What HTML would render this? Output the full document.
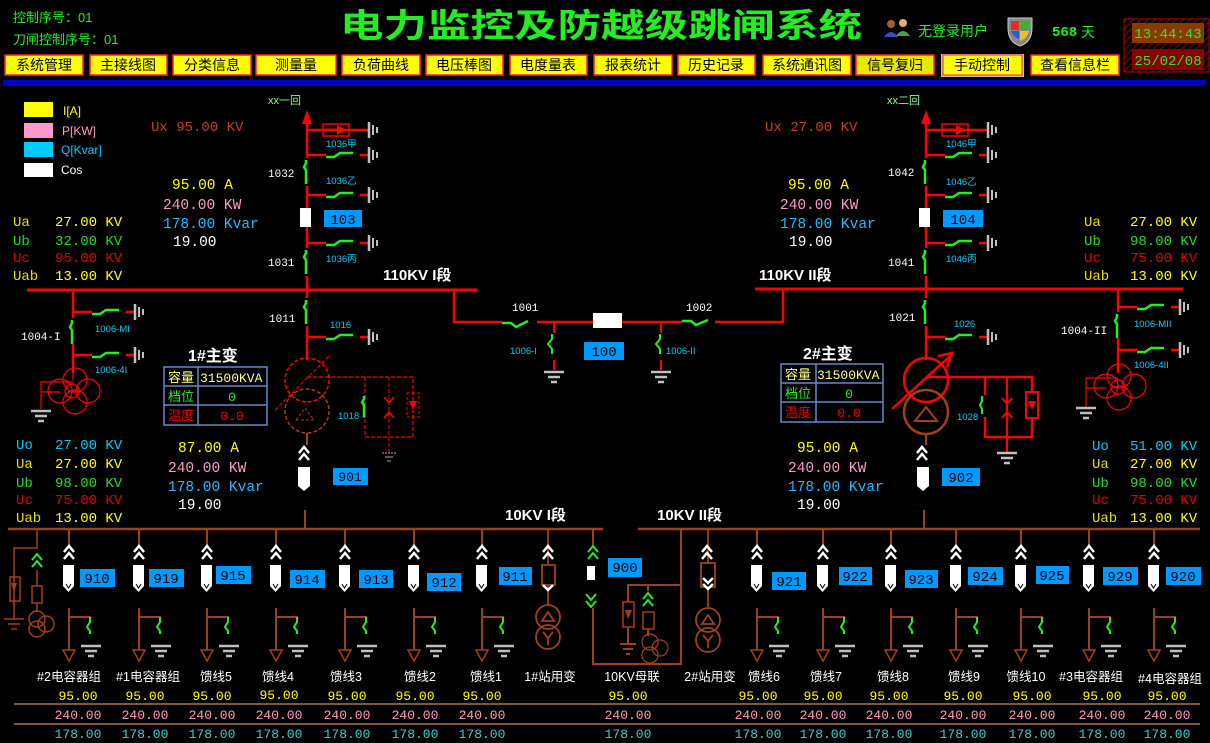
<!DOCTYPE html>
<html><head><meta charset="utf-8">
<style>
html,body{margin:0;padding:0;background:#000;}
svg{display:block;}
text{font-family:"Liberation Sans","Noto Sans CJK SC",sans-serif;}
.m, .m text{font-family:"Liberation Mono","Noto Sans CJK SC",monospace;}
.c, .c text{font-family:"Liberation Sans","Noto Sans CJK SC",sans-serif;}
</style></head>
<body>
<svg width="1210" height="743" viewBox="0 0 1210 743" xmlns="http://www.w3.org/2000/svg">
<defs>
 <pattern id="hatch" width="5" height="5" patternUnits="userSpaceOnUse" patternTransform="rotate(45)">
  <rect width="5" height="5" fill="#000"/><line x1="0" y1="0" x2="0" y2="5" stroke="#b00000" stroke-width="1.5"/>
 </pattern>
 <g id="br">
  <line x1="0" y1="0" x2="19" y2="0" stroke="#f00" stroke-width="2.5"/>
  <polyline points="19,2 27,2 33,-2 46,-2" fill="none" stroke="#22ee22" stroke-width="2.5"/>
  <line x1="53" y1="0" x2="61" y2="0" stroke="#f00" stroke-width="2.5"/>
  <line x1="62" y1="-8" x2="62" y2="8" stroke="#c0c0c0" stroke-width="2.5"/>
  <line x1="66" y1="-5" x2="66" y2="5" stroke="#c0c0c0" stroke-width="2"/>
  <line x1="70" y1="-3" x2="70" y2="3" stroke="#c0c0c0" stroke-width="2"/>
 </g>
 <g id="brA">
  <line x1="0" y1="0" x2="61" y2="0" stroke="#f00" stroke-width="2.5"/>
  <rect x="16" y="-6" width="26" height="12" fill="none" stroke="#f00" stroke-width="1.5"/>
  <line x1="18" y1="0" x2="32" y2="0" stroke="#f00" stroke-width="3"/>
  <polygon points="30,-5 40,0 30,5" fill="#f00"/>
  <line x1="62" y1="-8" x2="62" y2="8" stroke="#c0c0c0" stroke-width="2.5"/>
  <line x1="66" y1="-5" x2="66" y2="5" stroke="#c0c0c0" stroke-width="2"/>
  <line x1="70" y1="-3" x2="70" y2="3" stroke="#c0c0c0" stroke-width="2"/>
 </g>
 <g id="vs">
  <polyline points="0,0 0,3 -2,7 0,10 0,24" fill="none" stroke="#22ee22" stroke-width="2.5"/>
 </g>
 <g id="gd">
  <line x1="-10" y1="0" x2="10" y2="0" stroke="#c0c0c0" stroke-width="2.5"/>
  <line x1="-6" y1="5" x2="6" y2="5" stroke="#c0c0c0" stroke-width="2.5"/>
  <line x1="-3" y1="10" x2="3" y2="10" stroke="#c0c0c0" stroke-width="2.5"/>
 </g>
 <g id="chw">
  <polyline points="-5,7 0,1 5,7" fill="none" stroke="#fff" stroke-width="2.5"/>
  <polyline points="-5,14 0,8 5,14" fill="none" stroke="#fff" stroke-width="2.5"/>
 </g>
 <g id="chg">
  <polyline points="-5,7 0,1 5,7" fill="none" stroke="#22ee22" stroke-width="2"/>
  <polyline points="-5,14 0,8 5,14" fill="none" stroke="#22ee22" stroke-width="2"/>
 </g>
 <g id="chgd">
  <polyline points="-5,1 0,7 5,1" fill="none" stroke="#22ee22" stroke-width="2"/>
  <polyline points="-5,8 0,14 5,8" fill="none" stroke="#22ee22" stroke-width="2"/>
 </g>
 <g id="fd">
  <line x1="0" y1="529" x2="0" y2="545" stroke="#a0401a" stroke-width="2"/>
  <use href="#chw" y="545"/>
  <path d="M-6,565 h11 v21 l-5.5,6 l-5.5,-6 z" fill="#fff"/>
  <polyline points="-3,584 -0.5,588 2,584" fill="none" stroke="#000" stroke-width="1"/>
  <line x1="0" y1="608" x2="0" y2="650" stroke="#a0401a" stroke-width="2"/>
  <polygon points="-6,650 6,650 0,661" fill="none" stroke="#a0401a" stroke-width="1.5"/>
  <line x1="0" y1="617" x2="22" y2="617" stroke="#a0401a" stroke-width="2"/>
  <polyline points="21,617 21,622 18,627 21,631 21,634" fill="none" stroke="#22ee22" stroke-width="2"/>
  <use href="#gd" x="22" y="646"/>
 </g>
</defs>

<rect width="1210" height="743" fill="#000"/>

<text x="13" y="22" font-size="13" fill="#22ee22">控制序号：01</text>
<text x="13" y="44" font-size="13" fill="#22ee22">刀闸控制序号：01</text>
<text x="340" y="37" font-size="33" font-weight="bold" fill="#22ee22" textLength="522" lengthAdjust="spacingAndGlyphs">电力监控及防越级跳闸系统</text>
<circle cx="891" cy="24" r="4" fill="#a06030"/><path d="M884,37 q7,-10 14,0 z" fill="#3050c0"/>
<circle cx="903" cy="23" r="4" fill="#e0b070"/><path d="M896,36 q7,-10 14,0 z" fill="#50a040"/>
<text x="918" y="36" font-size="14" fill="#22ee22">无登录用户</text>
<path d="M1008,18 h24 v10 q0,14 -12,18 q-12,-4 -12,-18 z" fill="#888" stroke="#ccc"/>
<path d="M1011,21 h8 v9 h-8 z" fill="#e03020"/><path d="M1020,21 h9 v9 h-9 z" fill="#40b030"/>
<path d="M1011,31 h8 v8 q-6,-2 -8,-8 z" fill="#2060e0"/><path d="M1020,31 h9 q-2,8 -9,10 z" fill="#f0c020"/>
<text x="1052" y="36" font-size="14" font-weight="bold" fill="#22ee22" class="m">568</text>
<text x="1081" y="37" font-size="14" fill="#22ee22">天</text>
<rect x="1124" y="19" width="85" height="53" fill="url(#hatch)" stroke="#c00000" stroke-width="1"/>
<rect x="1132" y="23" width="72" height="20" fill="#8a3a00"/>
<text x="1168" y="38" font-size="14" fill="#22ee22" text-anchor="middle" class="m">13:44:43</text>
<rect x="1132" y="49" width="72" height="21" fill="#8a0000"/>
<text x="1168" y="65" font-size="14" fill="#22ee22" text-anchor="middle" class="m">25/02/08</text>

<g font-size="14" fill="#000" text-anchor="middle">
 <rect x="5" y="55" width="78" height="20" fill="#ffff00" stroke="#ff2020" stroke-width="1.5"/><text x="44" y="70">系统管理</text>
 <rect x="90" y="55" width="77" height="20" fill="#ffff00" stroke="#ff2020" stroke-width="1.5"/><text x="128" y="70">主接线图</text>
 <rect x="173" y="55" width="78" height="20" fill="#ffff00" stroke="#ff2020" stroke-width="1.5"/><text x="212" y="70">分类信息</text>
 <rect x="256" y="55" width="80" height="20" fill="#ffff00" stroke="#ff2020" stroke-width="1.5"/><text x="296" y="70">测量量</text>
 <rect x="342" y="55" width="78" height="20" fill="#ffff00" stroke="#ff2020" stroke-width="1.5"/><text x="381" y="70">负荷曲线</text>
 <rect x="426" y="55" width="77" height="20" fill="#ffff00" stroke="#ff2020" stroke-width="1.5"/><text x="464" y="70">电压棒图</text>
 <rect x="510" y="55" width="77" height="20" fill="#ffff00" stroke="#ff2020" stroke-width="1.5"/><text x="548" y="70">电度量表</text>
 <rect x="594" y="55" width="78" height="20" fill="#ffff00" stroke="#ff2020" stroke-width="1.5"/><text x="633" y="70">报表统计</text>
 <rect x="678" y="55" width="77" height="20" fill="#ffff00" stroke="#ff2020" stroke-width="1.5"/><text x="716" y="70">历史记录</text>
 <rect x="763" y="55" width="88" height="20" fill="#ffff00" stroke="#ff2020" stroke-width="1.5"/><text x="807" y="70">系统通讯图</text>
 <rect x="856" y="55" width="78" height="20" fill="#e8e800" stroke="#ff2020" stroke-width="1.5"/><text x="895" y="70">信号复归</text>
 <rect x="941" y="54" width="83" height="23" fill="#c0c0c0"/><rect x="943" y="55" width="79" height="20" fill="#ffff00" stroke="#ff2020" stroke-width="1"/><text x="982" y="70">手动控制</text>
 <rect x="1031" y="55" width="88" height="20" fill="#ffff00" stroke="#ff2020" stroke-width="1.5"/><text x="1075" y="70">查看信息栏</text>
</g>
<rect x="3" y="80" width="1202" height="6" fill="#0000cc"/>

<rect x="24" y="102" width="29" height="15" fill="#ffff00"/><text x="63" y="115" font-size="12" fill="#ffff00">I[A]</text>
<rect x="24" y="123" width="29" height="15" fill="#ff99cc"/><text x="62" y="135" font-size="12" fill="#ff99cc">P[KW]</text>
<rect x="24" y="142" width="29" height="15" fill="#00ccff"/><text x="61" y="154" font-size="12" fill="#00ccff">Q[Kvar]</text>
<rect x="24" y="163" width="29" height="14" fill="#fff"/><text x="61" y="174" font-size="12" fill="#fff">Cos</text>

<text x="151" y="131" font-size="14" fill="#c04020" class="m">Ux 95.00 KV</text>
<text x="268" y="104" font-size="11" fill="#88ff88">xx一回</text>
<line x1="307" y1="120" x2="307" y2="290" stroke="#f00" stroke-width="2.5"/>
<polygon points="302,124 307,110 312,124" fill="#f00"/>
<use href="#brA" x="307" y="130"/>
<use href="#br" x="307" y="155"/>
<use href="#br" x="307" y="195"/>
<use href="#br" x="307" y="243"/>
<rect x="303" y="158" width="8" height="28" fill="#000"/><use href="#vs" x="306" y="160"/>
<rect x="303" y="248" width="8" height="28" fill="#000"/><use href="#vs" x="306" y="250"/>
<rect x="300" y="208" width="11" height="19" fill="#fff"/>
<rect x="324" y="210" width="38" height="17" fill="#0099ff"/><text x="343" y="224" font-size="14" fill="#000" text-anchor="middle" class="m">103</text>
<g font-size="9.5" fill="#00ccff"><text x="326" y="147">1036甲</text><text x="326" y="184">1036乙</text><text x="326" y="262">1036丙</text></g>
<g font-size="11" fill="#fff" class="m"><text x="268" y="177">1032</text><text x="268" y="266">1031</text><text x="269" y="322">1011</text></g>
<g class="m" font-size="14.5"><text x="172" y="189" fill="#ffff00">95.00 A</text><text x="163" y="209" fill="#ff99cc">240.00 KW</text><text x="163" y="228" fill="#22bbff">178.00 Kvar</text><text x="173" y="246" fill="#fff">19.00</text></g>
<g class="m" font-size="14">
 <text x="13" y="226" fill="#e0e000">Ua</text><text x="55" y="226" fill="#ffff00">27.00 KV</text>
 <text x="13" y="245" fill="#22dd22">Ub</text><text x="55" y="245" fill="#22dd22">32.00 KV</text>
 <text x="13" y="262" fill="#dd0000">Uc</text><text x="55" y="262" fill="#dd0000">95.00 KV</text>
 <text x="13" y="280" fill="#e0e000">Uab</text><text x="55" y="280" fill="#ffff00">13.00 KV</text>
</g>
<text x="383" y="280" font-size="15" font-weight="bold" fill="#fff" class="c">110KV  I段</text>
<line x1="27" y1="290" x2="477" y2="290" stroke="#f00" stroke-width="3"/>

<line x1="307" y1="290" x2="307" y2="360" stroke="#f00" stroke-width="2.5"/>
<rect x="303" y="298" width="8" height="28" fill="#000"/><use href="#vs" x="306" y="300"/>
<use href="#br" x="307" y="337"/>
<text x="330" y="328" font-size="9.5" fill="#00ccff">1016</text>
<circle cx="307" cy="380" r="22" fill="none" stroke="#f00" stroke-width="1.5" stroke-dasharray="4,2"/>
<circle cx="307" cy="411" r="22" fill="none" stroke="#a0401a" stroke-width="1.5" stroke-dasharray="4,2"/>
<polygon points="296,420 305,408 314,420" fill="none" stroke="#a0401a" stroke-dasharray="3,2"/>
<line x1="275" y1="410" x2="330" y2="355" stroke="#f00" stroke-dasharray="4,2"/>
<polyline points="307,377 413,377 413,437 365,437 365,377" fill="none" stroke="#f00" stroke-width="1.2" stroke-dasharray="4,2"/>
<line x1="389" y1="377" x2="389" y2="455" stroke="#f00" stroke-dasharray="4,2"/>
<polyline points="384,397 389,403 394,397" fill="none" stroke="#f00" stroke-width="1.5"/>
<polyline points="384,418 389,412 394,418" fill="none" stroke="#f00" stroke-width="1.5"/>
<rect x="407" y="393" width="12" height="24" fill="none" stroke="#f00" stroke-dasharray="3,2"/>
<polygon points="409,401 417,401 413,410" fill="#f00"/>
<g transform="translate(389,453)"><line x1="-7" y1="0" x2="7" y2="0" stroke="#aaa" stroke-dasharray="2,1"/><line x1="-4" y1="4" x2="4" y2="4" stroke="#aaa"/><line x1="-2" y1="8" x2="2" y2="8" stroke="#aaa"/></g>
<use href="#vs" x="364" y="400" transform="scale(1,0.9) translate(0,40)"/>
<text x="338" y="419" font-size="9.5" fill="#00ccff">1018</text>
<text x="188" y="361" font-size="16" font-weight="bold" fill="#fff">1#主变</text>
<g>
 <rect x="164" y="367" width="103" height="58" fill="none" stroke="#6688cc" stroke-width="1.5"/>
 <line x1="164" y1="386" x2="267" y2="386" stroke="#6688cc" stroke-width="1.5"/>
 <line x1="164" y1="405" x2="267" y2="405" stroke="#6688cc" stroke-width="1.5"/>
 <line x1="198" y1="367" x2="198" y2="425" stroke="#6688cc" stroke-width="1.5"/>
 <text x="168" y="382" font-size="13" fill="#ffff88">容量</text><text x="200" y="382" font-size="13" fill="#ffff88" class="m">31500KVA</text>
 <text x="168" y="401" font-size="13" fill="#22ee22">档位</text><text x="232" y="401" font-size="13" fill="#22ee22" text-anchor="middle" class="m">0</text>
 <text x="168" y="420" font-size="13" fill="#ee0000">温度</text><text x="232" y="420" font-size="13" fill="#ee0000" text-anchor="middle" class="m">0.0</text>
</g>
<line x1="73" y1="290" x2="73" y2="373" stroke="#f00" stroke-width="2.5"/>
<use href="#br" x="73" y="312"/><use href="#br" x="73" y="355"/>
<rect x="69" y="318" width="8" height="26" fill="#000"/><use href="#vs" x="72" y="320"/>
<text x="21" y="340" font-size="11" fill="#fff" class="m">1004-I</text>
<text x="95" y="332" font-size="9.5" fill="#00ccff">1006-MI</text>
<text x="95" y="373" font-size="9.5" fill="#00ccff">1006-4I</text>
<g fill="none" stroke="#f00" stroke-width="1.2">
 <circle cx="60" cy="391" r="12"/><circle cx="75" cy="380" r="12"/><circle cx="75" cy="402" r="12"/><circle cx="88" cy="391" r="12"/><circle cx="72" cy="391" r="7"/>
 <polyline points="73,373 73,380"/><polyline points="41,409 41,382 73,382"/><line x1="41" y1="392" x2="60" y2="392"/>
</g>
<use href="#gd" x="41" y="411"/>
<g class="m" font-size="14">
 <text x="16" y="449" fill="#00ccff">Uo</text><text x="55" y="449" fill="#00ccff">27.00 KV</text>
 <text x="16" y="468" fill="#e0e000">Ua</text><text x="55" y="468" fill="#ffff00">27.00 KV</text>
 <text x="16" y="487" fill="#22dd22">Ub</text><text x="55" y="487" fill="#22dd22">98.00 KV</text>
 <text x="16" y="504" fill="#dd0000">Uc</text><text x="55" y="504" fill="#dd0000">75.00 KV</text>
 <text x="16" y="522" fill="#e0e000">Uab</text><text x="55" y="522" fill="#ffff00">13.00 KV</text>
</g>
<g class="m" font-size="14.5"><text x="178" y="452" fill="#ffff00">87.00 A</text><text x="168" y="472" fill="#ff99cc">240.00 KW</text><text x="168" y="491" fill="#22bbff">178.00 Kvar</text><text x="178" y="509" fill="#fff">19.00</text></g>
<line x1="307" y1="433" x2="307" y2="445" stroke="#a0401a" stroke-width="2"/>
<use href="#chw" x="304" y="446"/>
<path d="M298,467 h12 v19 l-6,5 l-6,-5 z" fill="#fff"/>
<line x1="305" y1="510" x2="305" y2="529" stroke="#a0401a" stroke-width="2"/>
<rect x="333" y="468" width="35" height="17" fill="#0099ff"/><text x="350" y="481" font-size="13" fill="#000" text-anchor="middle" class="m">901</text>

<polyline points="454,290 454,322 502,322" fill="none" stroke="#f00" stroke-width="2.5"/>
<polyline points="502,323 511,323 516,327 528,321" fill="none" stroke="#22ee22" stroke-width="2.5"/>
<line x1="537" y1="322" x2="593" y2="322" stroke="#f00" stroke-width="2.5"/>
<rect x="593" y="313" width="29" height="15" fill="#fff"/>
<line x1="622" y1="322" x2="682" y2="322" stroke="#f00" stroke-width="2.5"/>
<polyline points="682,321 691,321 696,325 708,320" fill="none" stroke="#22ee22" stroke-width="2.5"/>
<polyline points="715,322 783,322 783,290" fill="none" stroke="#f00" stroke-width="2.5"/>
<text x="512" y="311" font-size="11" fill="#fff" class="m">1001</text>
<text x="686" y="311" font-size="11" fill="#fff" class="m">1002</text>
<rect x="584" y="342" width="40" height="18" fill="#0099ff"/><text x="604" y="356" font-size="14" fill="#000" text-anchor="middle" class="m">100</text>
<line x1="554" y1="322" x2="554" y2="333" stroke="#f00" stroke-width="2"/>
<polyline points="552,334 552,339 548,344 552,349 552,354" fill="none" stroke="#22ee22" stroke-width="2"/>
<line x1="554" y1="360" x2="554" y2="370" stroke="#f00" stroke-width="2"/><use href="#gd" x="554" y="372"/>
<line x1="661" y1="322" x2="661" y2="333" stroke="#f00" stroke-width="2"/>
<polyline points="660,334 660,339 656,344 660,349 660,354" fill="none" stroke="#22ee22" stroke-width="2"/>
<line x1="661" y1="360" x2="661" y2="370" stroke="#f00" stroke-width="2"/><use href="#gd" x="661" y="372"/>
<text x="510" y="354" font-size="9.5" fill="#00ccff">1006-I</text>
<text x="666" y="354" font-size="9.5" fill="#00ccff">1006-II</text>

<text x="765" y="131" font-size="14" fill="#c04020" class="m">Ux 27.00 KV</text>
<text x="887" y="104" font-size="11" fill="#88ff88">xx二回</text>
<line x1="926" y1="120" x2="926" y2="290" stroke="#f00" stroke-width="2.5"/>
<polygon points="921,124 926,110 931,124" fill="#f00"/>
<use href="#brA" x="926" y="130"/>
<use href="#br" x="926" y="155"/>
<use href="#br" x="926" y="195"/>
<use href="#br" x="926" y="243"/>
<rect x="922" y="158" width="8" height="28" fill="#000"/><use href="#vs" x="925" y="160"/>
<rect x="922" y="248" width="8" height="28" fill="#000"/><use href="#vs" x="925" y="250"/>
<rect x="919" y="208" width="11" height="19" fill="#fff"/>
<rect x="943" y="210" width="40" height="17" fill="#0099ff"/><text x="963" y="224" font-size="14" fill="#000" text-anchor="middle" class="m">104</text>
<g font-size="9.5" fill="#00ccff"><text x="946" y="147">1046甲</text><text x="946" y="185">1046乙</text><text x="946" y="262">1046丙</text></g>
<g font-size="11" fill="#fff" class="m"><text x="888" y="176">1042</text><text x="888" y="266">1041</text><text x="889" y="321">1021</text></g>
<g class="m" font-size="14.5"><text x="788" y="189" fill="#ffff00">95.00 A</text><text x="780" y="209" fill="#ff99cc">240.00 KW</text><text x="780" y="228" fill="#22bbff">178.00 Kvar</text><text x="789" y="246" fill="#fff">19.00</text></g>
<g class="m" font-size="14">
 <text x="1084" y="226" fill="#e0e000">Ua</text><text x="1130" y="226" fill="#ffff00">27.00 KV</text>
 <text x="1084" y="245" fill="#22dd22">Ub</text><text x="1130" y="245" fill="#22dd22">98.00 KV</text>
 <text x="1084" y="262" fill="#dd0000">Uc</text><text x="1130" y="262" fill="#dd0000">75.00 KV</text>
 <text x="1084" y="280" fill="#e0e000">Uab</text><text x="1130" y="280" fill="#ffff00">13.00 KV</text>
</g>
<text x="759" y="280" font-size="15" font-weight="bold" fill="#fff" class="c">110KV  II段</text>
<line x1="755" y1="289" x2="1183" y2="289" stroke="#f00" stroke-width="3"/>
<line x1="926" y1="289" x2="926" y2="360" stroke="#f00" stroke-width="2.5"/>
<rect x="922" y="298" width="8" height="28" fill="#000"/><use href="#vs" x="925" y="300"/>
<use href="#br" x="926" y="337"/>
<text x="954" y="327" font-size="9.5" fill="#00ccff">1026</text>
<circle cx="926" cy="380" r="22" fill="none" stroke="#f00" stroke-width="2.5"/>
<circle cx="926" cy="412" r="22" fill="none" stroke="#a0401a" stroke-width="2.5"/>
<polygon points="915,421 926,407 937,421" fill="none" stroke="#a0401a" stroke-width="2"/>
<line x1="892" y1="409" x2="950" y2="356" stroke="#f00" stroke-width="2.5"/>
<polyline points="938,356 952,353 947,367" fill="none" stroke="#f00" stroke-width="2.5"/>
<polyline points="926,377 1032,377 1032,437 985,437 985,377" fill="none" stroke="#f00" stroke-width="2.5"/>
<line x1="1007" y1="377" x2="1007" y2="452" stroke="#f00" stroke-width="2"/>
<polyline points="1002,398 1007,404 1012,398" fill="none" stroke="#f00" stroke-width="2"/>
<polyline points="1002,418 1007,412 1012,418" fill="none" stroke="#f00" stroke-width="2"/>
<rect x="1026" y="392" width="12" height="26" fill="#000" stroke="#f00" stroke-width="2"/>
<polygon points="1028,401 1036,401 1032,410" fill="#f00"/>
<use href="#gd" x="1007" y="453"/>
<rect x="980" y="395" width="8" height="22" fill="#000"/><polyline points="982,396 982,401 980,405 982,409 982,414" fill="none" stroke="#22ee22" stroke-width="2"/>
<text x="957" y="420" font-size="9.5" fill="#00ccff">1028</text>
<text x="803" y="359" font-size="16" font-weight="bold" fill="#fff">2#主变</text>
<g>
 <rect x="781" y="364" width="102" height="58" fill="none" stroke="#6688cc" stroke-width="1.5"/>
 <line x1="781" y1="383" x2="883" y2="383" stroke="#6688cc" stroke-width="1.5"/>
 <line x1="781" y1="402" x2="883" y2="402" stroke="#6688cc" stroke-width="1.5"/>
 <line x1="816" y1="364" x2="816" y2="422" stroke="#6688cc" stroke-width="1.5"/>
 <text x="785" y="379" font-size="13" fill="#ffff88">容量</text><text x="817" y="379" font-size="13" fill="#ffff88" class="m">31500KVA</text>
 <text x="785" y="398" font-size="13" fill="#22ee22">档位</text><text x="849" y="398" font-size="13" fill="#22ee22" text-anchor="middle" class="m">0</text>
 <text x="785" y="417" font-size="13" fill="#ee0000">温度</text><text x="849" y="417" font-size="13" fill="#ee0000" text-anchor="middle" class="m">0.0</text>
</g>
<line x1="1118" y1="289" x2="1118" y2="373" stroke="#f00" stroke-width="2.5"/>
<use href="#br" x="1118" y="307"/><use href="#br" x="1118" y="350"/>
<rect x="1114" y="312" width="8" height="26" fill="#000"/><use href="#vs" x="1117" y="314"/>
<text x="1061" y="334" font-size="11" fill="#fff" class="m">1004-II</text>
<text x="1134" y="327" font-size="9.5" fill="#00ccff">1006-MII</text>
<text x="1134" y="368" font-size="9.5" fill="#00ccff">1006-4II</text>
<g fill="none" stroke="#f00" stroke-width="1.2">
 <circle cx="1106" cy="386" r="12"/><circle cx="1119" cy="376" r="12"/><circle cx="1119" cy="398" r="12"/><circle cx="1134" cy="386" r="12"/><circle cx="1118" cy="387" r="7"/>
 <polyline points="1086,407 1086,378 1118,378"/><line x1="1086" y1="388" x2="1106" y2="388"/>
</g>
<use href="#gd" x="1086" y="408"/>
<g class="m" font-size="14">
 <text x="1092" y="450" fill="#00ccff">Uo</text><text x="1130" y="450" fill="#00ccff">51.00 KV</text>
 <text x="1092" y="468" fill="#e0e000">Ua</text><text x="1130" y="468" fill="#ffff00">27.00 KV</text>
 <text x="1092" y="487" fill="#22dd22">Ub</text><text x="1130" y="487" fill="#22dd22">98.00 KV</text>
 <text x="1092" y="504" fill="#dd0000">Uc</text><text x="1130" y="504" fill="#dd0000">75.00 KV</text>
 <text x="1092" y="522" fill="#e0e000">Uab</text><text x="1130" y="522" fill="#ffff00">13.00 KV</text>
</g>
<g class="m" font-size="14.5"><text x="797" y="452" fill="#ffff00">95.00 A</text><text x="788" y="472" fill="#ff99cc">240.00 KW</text><text x="788" y="491" fill="#22bbff">178.00 Kvar</text><text x="797" y="509" fill="#fff">19.00</text></g>
<line x1="926" y1="434" x2="926" y2="445" stroke="#a0401a" stroke-width="2"/>
<use href="#chw" x="922" y="446"/>
<path d="M917,467 h12 v19 l-6,5 l-6,-5 z" fill="#fff"/>
<line x1="924" y1="510" x2="924" y2="529" stroke="#a0401a" stroke-width="2"/>
<rect x="942" y="468" width="38" height="18" fill="#0099ff"/><text x="961" y="482" font-size="14" fill="#000" text-anchor="middle" class="m">902</text>

<text x="505" y="520" font-size="15" font-weight="bold" fill="#fff" class="c">10KV  I段</text>
<text x="657" y="520" font-size="15" font-weight="bold" fill="#fff" class="c">10KV  II段</text>
<line x1="8" y1="529" x2="603" y2="529" stroke="#a0401a" stroke-width="2.5"/>
<line x1="638" y1="529" x2="1200" y2="529" stroke="#a0401a" stroke-width="2.5"/>

<use href="#fd" x="69"/><use href="#fd" x="139"/><use href="#fd" x="207"/><use href="#fd" x="276"/>
<use href="#fd" x="345"/><use href="#fd" x="414"/><use href="#fd" x="482"/>
<use href="#fd" x="757"/><use href="#fd" x="823"/><use href="#fd" x="891"/><use href="#fd" x="956"/>
<use href="#fd" x="1021"/><use href="#fd" x="1089"/><use href="#fd" x="1154"/>
<g font-size="14" fill="#000" text-anchor="middle" class="m">
 <rect x="80" y="569" width="35" height="18" fill="#0099ff"/><text x="97" y="583">910</text>
 <rect x="149" y="569" width="35" height="18" fill="#0099ff"/><text x="166" y="583">919</text>
 <rect x="216" y="566" width="35" height="18" fill="#0099ff"/><text x="233" y="580">915</text>
 <rect x="290" y="570" width="35" height="18" fill="#0099ff"/><text x="307" y="584">914</text>
 <rect x="359" y="570" width="34" height="18" fill="#0099ff"/><text x="376" y="584">913</text>
 <rect x="427" y="573" width="34" height="18" fill="#0099ff"/><text x="444" y="587">912</text>
 <rect x="499" y="567" width="33" height="18" fill="#0099ff"/><text x="515" y="581">911</text>
 <rect x="608" y="558" width="34" height="19" fill="#0099ff"/><text x="625" y="572">900</text>
 <rect x="772" y="572" width="34" height="18" fill="#0099ff"/><text x="789" y="586">921</text>
 <rect x="839" y="567" width="33" height="18" fill="#0099ff"/><text x="855" y="581">922</text>
 <rect x="905" y="570" width="33" height="18" fill="#0099ff"/><text x="921" y="584">923</text>
 <rect x="968" y="567" width="35" height="18" fill="#0099ff"/><text x="985" y="581">924</text>
 <rect x="1036" y="566" width="33" height="18" fill="#0099ff"/><text x="1052" y="580">925</text>
 <rect x="1103" y="567" width="35" height="18" fill="#0099ff"/><text x="1120" y="581">929</text>
 <rect x="1166" y="567" width="35" height="18" fill="#0099ff"/><text x="1183" y="581">920</text>
</g>

<g stroke="#a0401a" stroke-width="1.5" fill="none">
 <polyline points="14,606 14,548 37,548 37,530"/>
 <rect x="10" y="577" width="10" height="24"/>
 <line x1="37" y1="570" x2="37" y2="586"/>
 <rect x="32" y="586" width="10" height="17"/>
 <line x1="37" y1="603" x2="37" y2="612"/>
 <circle cx="37" cy="619" r="8"/><circle cx="37" cy="629" r="8"/><circle cx="46" cy="624" r="8"/>
 <line x1="4" y1="619" x2="24" y2="619"/><line x1="8" y1="624" x2="20" y2="624"/><line x1="11" y1="629" x2="17" y2="629"/>
 <line x1="14" y1="601" x2="14" y2="619"/>
</g>
<polygon points="11,583 17,583 14,592" fill="#a0401a"/>
<use href="#chg" x="37" y="553"/>
<g stroke="#a0401a" stroke-width="1.8" fill="none">
 <line x1="548" y1="529" x2="548" y2="564"/>
 <rect x="542" y="565" width="13" height="20"/>
 <line x1="548" y1="585" x2="548" y2="605"/>
 <circle cx="548" cy="617" r="12"/><circle cx="548" cy="637" r="12"/>
 <polygon points="542,621 548,612 554,621"/>
 <polyline points="543,632 548,638 553,632"/><line x1="548" y1="638" x2="548" y2="645"/>
</g>
<use href="#chw" x="548" y="545"/>
<polyline points="543,585 548,590 553,585" fill="none" stroke="#fff" stroke-width="2.5"/>
<g stroke="#a0401a" stroke-width="1.8" fill="none">
 <line x1="708" y1="529" x2="708" y2="564"/>
 <rect x="701" y="563" width="14" height="24"/>
 <line x1="708" y1="587" x2="708" y2="607"/>
 <circle cx="708" cy="620" r="12"/><circle cx="708" cy="640" r="12"/>
 <polygon points="702,624 708,615 714,624"/>
 <polyline points="703,635 708,641 713,635"/><line x1="708" y1="641" x2="708" y2="648"/>
</g>
<use href="#chw" x="707" y="545"/>
<polyline points="703,578 708,583 713,578" fill="none" stroke="#fff" stroke-width="2.5"/>
<polyline points="703,584 708,589 713,584" fill="none" stroke="#fff" stroke-width="2.5"/>
<g stroke="#a0401a" stroke-width="2" fill="none">
 <polyline points="593,529 593,545"/><polyline points="593,608 593,664 681,664 681,529"/>
 <polyline points="681,585 628,585 628,602"/><rect x="623" y="602" width="11" height="25" stroke-width="1.5"/>
 <line x1="628" y1="627" x2="628" y2="643"/>
 <line x1="620" y1="644" x2="636" y2="644"/><line x1="623" y1="649" x2="633" y2="649"/><line x1="626" y1="654" x2="630" y2="654"/>
 <line x1="648" y1="585" x2="648" y2="591"/><rect x="643" y="612" width="11" height="17" stroke-width="1.5"/>
 <line x1="648" y1="629" x2="648" y2="636"/>
 <circle cx="650" cy="642" r="8" stroke-width="1.2"/><circle cx="650" cy="655" r="8" stroke-width="1.2"/><circle cx="660" cy="648" r="8" stroke-width="1.2"/>
</g>
<polygon points="625,610 632,610 628,619" fill="#a0401a"/>
<use href="#chg" x="593" y="545"/>
<rect x="587" y="566" width="8" height="14" fill="#fff"/>
<use href="#chgd" x="591" y="593"/>
<use href="#chg" x="648" y="592"/>

<g font-size="12.5" fill="#fff" text-anchor="middle">
 <text x="69" y="681">#2电容器组</text><text x="148" y="681">#1电容器组</text>
 <text x="216" y="681">馈线5</text><text x="278" y="681">馈线4</text><text x="346" y="681">馈线3</text>
 <text x="420" y="681">馈线2</text><text x="486" y="681">馈线1</text><text x="550" y="681">1#站用变</text>
 <text x="632" y="681">10KV母联</text><text x="710" y="681">2#站用变</text>
 <text x="764" y="681">馈线6</text><text x="826" y="681">馈线7</text><text x="893" y="681">馈线8</text>
 <text x="964" y="681">馈线9</text><text x="1026" y="681">馈线10</text><text x="1091" y="681">#3电容器组</text><text x="1170" y="683">#4电容器组</text>
</g>
<line x1="14" y1="704" x2="1200" y2="704" stroke="#ffb080" stroke-width="1"/>
<line x1="14" y1="724" x2="1200" y2="724" stroke="#ffb080" stroke-width="1"/>
<g class="m" font-size="13" text-anchor="middle">
 <g fill="#ffff00">
  <text x="78" y="700">95.00</text><text x="145" y="700">95.00</text><text x="212" y="700">95.00</text><text x="279" y="699">95.00</text>
  <text x="347" y="700">95.00</text><text x="415" y="700">95.00</text><text x="482" y="700">95.00</text><text x="628" y="700">95.00</text>
  <text x="758" y="700">95.00</text><text x="823" y="700">95.00</text><text x="889" y="700">95.00</text><text x="963" y="700">95.00</text>
  <text x="1032" y="700">95.00</text><text x="1102" y="700">95.00</text><text x="1167" y="700">95.00</text>
 </g>
 <g fill="#ff99cc">
  <text x="78" y="719">240.00</text><text x="145" y="719">240.00</text><text x="212" y="719">240.00</text><text x="279" y="719">240.00</text>
  <text x="347" y="719">240.00</text><text x="415" y="719">240.00</text><text x="482" y="719">240.00</text><text x="628" y="719">240.00</text>
  <text x="758" y="719">240.00</text><text x="823" y="719">240.00</text><text x="889" y="719">240.00</text><text x="963" y="719">240.00</text>
  <text x="1032" y="719">240.00</text><text x="1102" y="719">240.00</text><text x="1167" y="719">240.00</text>
 </g>
 <g fill="#44cccc">
  <text x="78" y="738">178.00</text><text x="145" y="738">178.00</text><text x="212" y="738">178.00</text><text x="279" y="738">178.00</text>
  <text x="347" y="738">178.00</text><text x="415" y="738">178.00</text><text x="482" y="738">178.00</text><text x="628" y="738">178.00</text>
  <text x="758" y="738">178.00</text><text x="823" y="738">178.00</text><text x="889" y="738">178.00</text><text x="963" y="738">178.00</text>
  <text x="1032" y="738">178.00</text><text x="1102" y="738">178.00</text><text x="1167" y="738">178.00</text>
 </g>
</g>
</svg>
</body></html>
